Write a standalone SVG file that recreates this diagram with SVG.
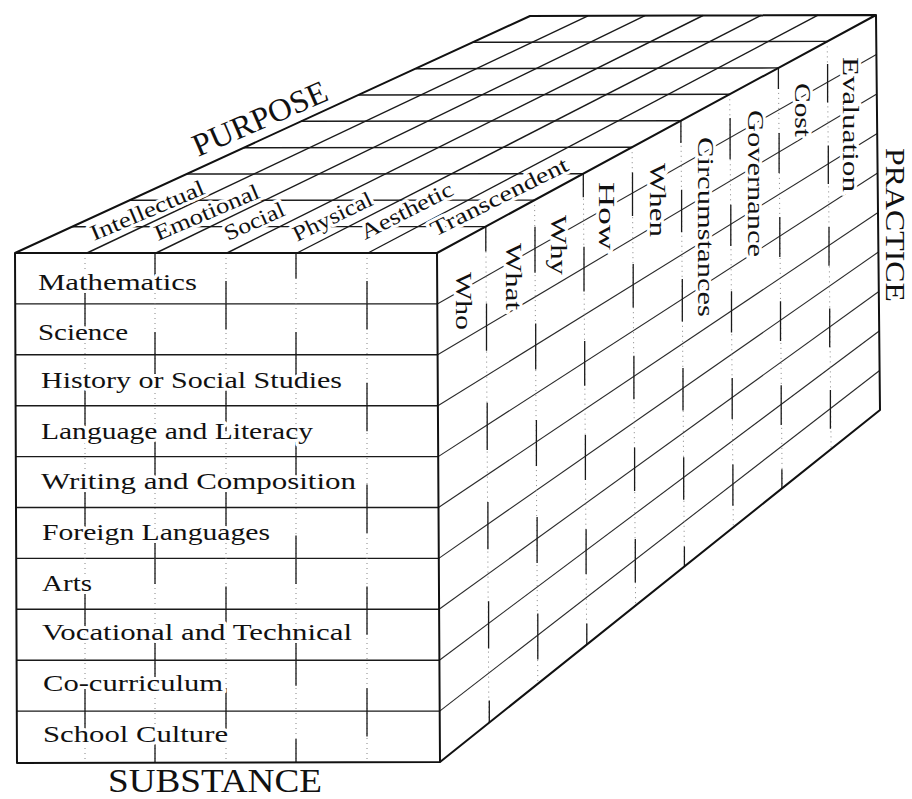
<svg xmlns="http://www.w3.org/2000/svg" width="912" height="799" viewBox="0 0 912 799">
<style>
.edge{stroke:#111;stroke-width:2;fill:none;stroke-linejoin:round}
.grid{stroke:#1a1a1a;stroke-width:1.4;fill:none}
.rgrid{stroke:#2a2a2a;stroke-width:1.1;fill:none}
.tick{stroke:#1a1a1a;stroke-width:1.3;fill:none}
.dot{stroke:#777;stroke-width:0.9;stroke-dasharray:1 4;fill:none}
.lbl{font-family:"Liberation Serif","Times New Roman",serif;fill:#111;paint-order:stroke;stroke:#fff;stroke-width:6;stroke-linejoin:round}
.title{font-family:"Liberation Serif","Times New Roman",serif;fill:#111}
</style>
<rect width="912" height="799" fill="#fff"/>

<g id="top-face">
  <g class="grid">
    <line x1="72.2" y1="226.7" x2="485.8" y2="226.6"/>
    <line x1="129.4" y1="200.3" x2="534.6" y2="200.1"/>
    <line x1="186.7" y1="174" x2="583.3" y2="173.7"/>
    <line x1="243.9" y1="147.7" x2="632.1" y2="147.2"/>
    <line x1="301.1" y1="121.3" x2="680.9" y2="120.8"/>
    <line x1="358.3" y1="95" x2="729.7" y2="94.3"/>
    <line x1="415.6" y1="68.7" x2="778.4" y2="67.9"/>
    <line x1="472.8" y1="42.3" x2="827.2" y2="41.4"/>
    <line x1="87" y1="253" x2="588" y2="15.8"/>
    <line x1="156" y1="253" x2="645" y2="15.7"/>
    <line x1="227" y1="253" x2="703" y2="15.5"/>
    <line x1="297" y1="253" x2="761" y2="15.3"/>
    <line x1="368" y1="253" x2="818" y2="15.2"/>
  </g>
</g>

<g id="right-face">
  <g class="rgrid">
    <line x1="437.3" y1="303.9" x2="876.4" y2="54.5"/>
    <line x1="437.6" y1="354.8" x2="876.8" y2="94"/>
    <line x1="437.9" y1="405.7" x2="877.2" y2="133.5"/>
    <line x1="438.2" y1="456.6" x2="877.6" y2="173"/>
    <line x1="438.5" y1="507.5" x2="878" y2="212.5"/>
    <line x1="438.8" y1="558.4" x2="878.4" y2="252"/>
    <line x1="439.1" y1="609.3" x2="878.8" y2="291.5"/>
    <line x1="439.4" y1="660.2" x2="879.2" y2="331"/>
    <line x1="439.7" y1="711.1" x2="879.6" y2="370.5"/>
  </g>
  <g class="dot">
    <line x1="485.8" y1="226.6" x2="488.9" y2="722.9"/>
    <line x1="534.6" y1="200.1" x2="537.8" y2="683.8"/>
    <line x1="583.3" y1="173.7" x2="586.7" y2="644.7"/>
    <line x1="632.1" y1="147.2" x2="635.6" y2="605.6"/>
    <line x1="680.9" y1="120.8" x2="684.4" y2="566.4"/>
    <line x1="729.7" y1="94.3" x2="733.3" y2="527.3"/>
    <line x1="778.4" y1="67.9" x2="782.2" y2="488.2"/>
    <line x1="827.2" y1="41.4" x2="831.1" y2="449.1"/>
  </g>
  <path class="tick" d="M485.8 226.6V251.4 M486.5 303.5V350.7 M487.2 402.8V449.9 M487.9 502.1V549.2 M488.6 601.3V648.4 M489.3 700.6V722.9
    M535 226.7V272.7 M535.7 323.4V369.4 M536.4 420.1V466.1 M537.1 516.9V562.9 M537.8 613.6V659.6
    M583.3 173.7V197.3 M584 246.7V291.5 M584.7 340.9V385.7 M585.4 435.1V479.9 M586.1 529.3V574.1 M586.8 623.5V644.7
    M632.5 172.4V215.9 M633.2 264.1V307.6 M633.9 355.8V399.3 M634.6 447.4V490.9 M635.3 539.1V582.6
    M680.9 120.8V143.1 M681.6 189.8V232.2 M682.3 279V321.4 M683 368.1V410.5 M683.7 457.3V499.7 M684.4 546.4V566.5
    M730.1 118.1V159.3 M730.8 204.7V245.9 M731.5 291.3V332.5 M732.2 377.9V419.1 M732.9 464.5V505.7
    M778.4 67.9V88.9 M779.1 133.1V173 M779.8 217.1V257 M780.5 301.2V341.1 M781.2 385.2V425.1 M781.9 469.3V488.2
    M827.6 63.9V102.6 M828.3 145.4V184.1 M829 227V265.7 M829.7 308.5V347.2 M830.4 390V428.7"/>
</g>

<g id="front-face">
  <g class="grid">
    <line x1="15.2" y1="303.9" x2="437.3" y2="303.9"/>
    <line x1="15.4" y1="354.8" x2="437.6" y2="354.8"/>
    <line x1="15.6" y1="405.7" x2="437.9" y2="405.7"/>
    <line x1="15.8" y1="456.6" x2="438.2" y2="456.6"/>
    <line x1="16" y1="507.5" x2="438.5" y2="507.5"/>
    <line x1="16.2" y1="558.4" x2="438.8" y2="558.4"/>
    <line x1="16.4" y1="609.3" x2="439.1" y2="609.3"/>
    <line x1="16.6" y1="660.2" x2="439.4" y2="660.2"/>
    <line x1="16.8" y1="711.1" x2="439.7" y2="711.1"/>
  </g>
  <g class="dot">
    <line x1="85" y1="253" x2="85" y2="763"/>
    <line x1="155" y1="253" x2="155" y2="763"/>
    <line x1="226" y1="253" x2="226" y2="763"/>
    <line x1="296" y1="253" x2="296" y2="763"/>
    <line x1="367" y1="253" x2="367" y2="763"/>
  </g>
  <path class="tick" d="M85 281V329.4 M85 382.8V431.2 M85 484.6V533 M85 586.4V634.8 M85 688.2V736.6
    M155 253V278.5 M155 331.9V380.3 M155 433.7V482.1 M155 535.5V583.9 M155 637.3V685.7 M155 739.1V763
    M226 281V329.4 M226 382.8V431.2 M226 484.6V533 M226 586.4V634.8 M226 688.2V736.6
    M296 253V278.5 M296 331.9V380.3 M296 433.7V482.1 M296 535.5V583.9 M296 637.3V685.7 M296 739.1V763
    M367 281V329.4 M367 382.8V431.2 M367 484.6V533 M367 586.4V634.8 M367 688.2V736.6"/>
</g>

<g id="outline" class="edge">
  <polygon points="15,253 437,253 440,762 17,763"/>
  <polyline points="15,253 530,16 876,15 437,253"/>
  <polyline points="876,15 880,410 440,762"/>
</g>

<g id="purpose-labels" class="lbl" font-size="22">
  <text transform="translate(94,241) rotate(-23)" textLength="122" lengthAdjust="spacingAndGlyphs">Intellectual</text>
  <text transform="translate(158,241) rotate(-23)" textLength="112" lengthAdjust="spacingAndGlyphs">Emotional</text>
  <text transform="translate(228,241) rotate(-24)" textLength="64" lengthAdjust="spacingAndGlyphs">Social</text>
  <text transform="translate(297,242) rotate(-26)" textLength="86" lengthAdjust="spacingAndGlyphs">Physical</text>
  <text transform="translate(365,240) rotate(-27)" textLength="101" lengthAdjust="spacingAndGlyphs">Aesthetic</text>
  <text transform="translate(435,237) rotate(-26.5)" textLength="151" lengthAdjust="spacingAndGlyphs">Transcendent</text>
</g>

<g id="practice-labels" class="lbl" font-size="23">
  <text transform="translate(456,272) rotate(90)" textLength="58" lengthAdjust="spacingAndGlyphs">Who</text>
  <text transform="translate(506,243) rotate(90)" textLength="67" lengthAdjust="spacingAndGlyphs">What</text>
  <text transform="translate(551,215) rotate(90)" textLength="60" lengthAdjust="spacingAndGlyphs">Why</text>
  <text transform="translate(599,182) rotate(90)" textLength="68" lengthAdjust="spacingAndGlyphs">How</text>
  <text transform="translate(650,163) rotate(90)" textLength="74" lengthAdjust="spacingAndGlyphs">When</text>
  <text transform="translate(698,137) rotate(90)" textLength="180" lengthAdjust="spacingAndGlyphs">Circumstances</text>
  <text transform="translate(748,110) rotate(90)" textLength="147" lengthAdjust="spacingAndGlyphs">Governance</text>
  <text transform="translate(795,83) rotate(90)" textLength="54" lengthAdjust="spacingAndGlyphs">Cost</text>
  <text transform="translate(843,57) rotate(90)" textLength="135" lengthAdjust="spacingAndGlyphs">Evaluation</text>
</g>

<g id="substance-labels" class="lbl" font-size="24">
  <text x="38" y="290" textLength="159" lengthAdjust="spacingAndGlyphs">Mathematics</text>
  <text x="38" y="340" textLength="90" lengthAdjust="spacingAndGlyphs">Science</text>
  <text x="41" y="388" textLength="301" lengthAdjust="spacingAndGlyphs">History or Social Studies</text>
  <text x="41" y="439" textLength="272" lengthAdjust="spacingAndGlyphs">Language and Literacy</text>
  <text x="41" y="489" textLength="315" lengthAdjust="spacingAndGlyphs">Writing and Composition</text>
  <text x="42" y="540" textLength="228" lengthAdjust="spacingAndGlyphs">Foreign Languages</text>
  <text x="42" y="591" textLength="50" lengthAdjust="spacingAndGlyphs">Arts</text>
  <text x="42" y="640" textLength="310" lengthAdjust="spacingAndGlyphs">Vocational and Technical</text>
  <text x="43" y="691" textLength="180" lengthAdjust="spacingAndGlyphs">Co-curriculum</text>
  <text x="43" y="742" textLength="185" lengthAdjust="spacingAndGlyphs">School Culture</text>
</g>

<g id="axis-titles" class="title">
  <text transform="translate(198,157) rotate(-23.5)" font-size="32" textLength="144" lengthAdjust="spacingAndGlyphs">PURPOSE</text>
  <text transform="translate(886,148) rotate(90)" font-size="27" textLength="154" lengthAdjust="spacingAndGlyphs">PRACTICE</text>
  <text x="108" y="792" font-size="33" textLength="214" lengthAdjust="spacingAndGlyphs">SUBSTANCE</text>
</g>
</svg>
